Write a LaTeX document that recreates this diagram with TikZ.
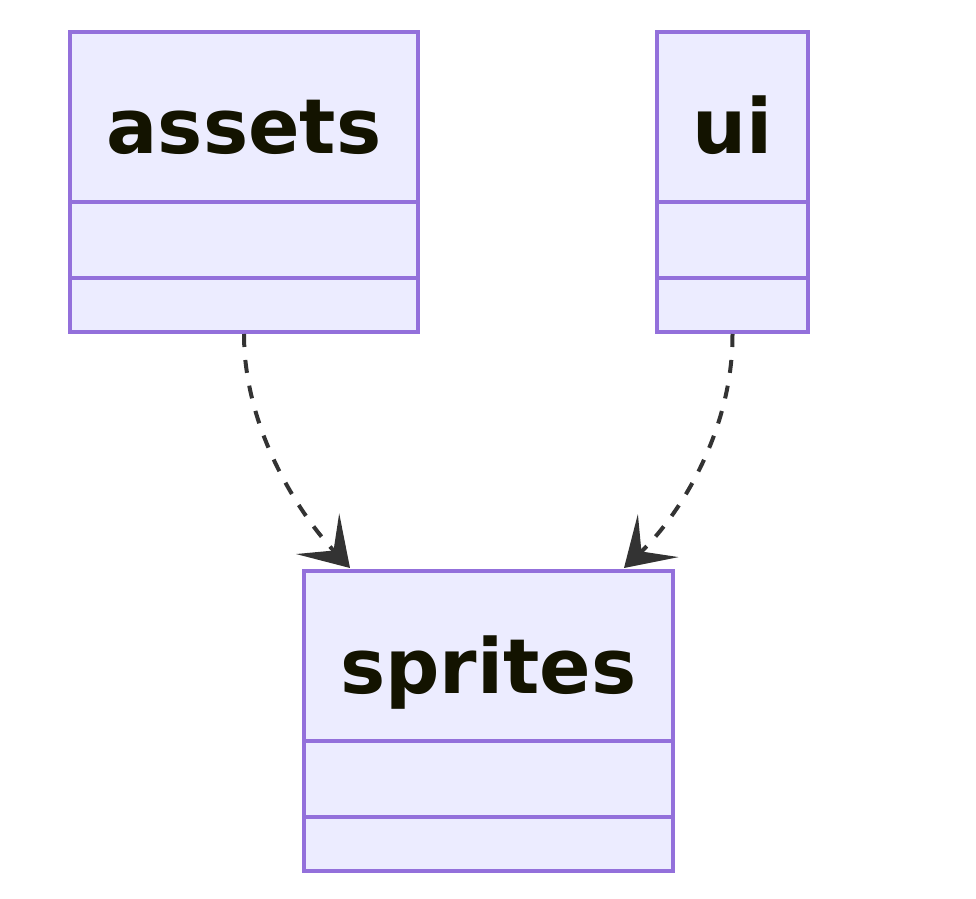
\documentclass[tikz,border=0pt]{standalone}
\usepackage{fontspec}
\setmainfont{DejaVu Sans}
\usepackage{xcolor}
\usetikzlibrary{arrows.meta,positioning,calc}
\definecolor{classfill}{HTML}{ECECFF}
\definecolor{classdraw}{HTML}{9370DB}
\definecolor{classtext}{HTML}{131300}
\definecolor{depline}{HTML}{333333}

\begin{document}
\begin{tikzpicture}[
    x=0.5pt, y=-0.5pt,
    classbox/.style={rectangle, draw=classdraw, line width=2pt, fill=classfill, minimum height=150pt, inner sep=0pt},
    title/.style={font=\bfseries\fontsize{38}{46}\selectfont, text=classtext, anchor=base, inner sep=0pt},
    divider/.style={draw=classdraw, line width=2pt},
    dep/.style={-{Stealth[length=23.5pt, width=29.5pt, inset=11.5pt]}, dash pattern=on 6.5pt off 6.5pt, line width=2pt, draw=depline}
]
    \useasboundingbox (0,0) rectangle (976,899);

    % Classes
    \node[classbox, minimum width=174pt] (assets) at (244,182) {};
    \node[classbox, minimum width=75.5pt] (ui) at (732.5,182) {};
    \node[classbox, minimum width=184.5pt] (sprites) at (488.5,721) {};

    % Titles
    \node[title] (assets-title) at ($(assets.north)+(0,124)$) {assets};
    \node[title] (ui-title) at ($(ui.north)+(0,124)$) {ui};
    \node[title] (sprites-title) at ($(sprites.north)+(0,124)$) {sprites};

    % Member and method compartments
    \foreach \cls in {assets,ui,sprites} {
        \draw[divider] ($(\cls.north west)+(0,172)$) -- ($(\cls.north east)+(0,172)$);
        \draw[divider] ($(\cls.north west)+(0,248)$) -- ($(\cls.north east)+(0,248)$);
    }

    % Dependencies
    \coordinate (sprites-in-left) at ($(sprites.north west)+(48,-1)$);
    \coordinate (sprites-in-right) at ($(sprites.north west)+(322,-1)$);
    \draw[dep] (assets.south) .. controls (244,430) and (300,515) .. (sprites-in-left);
    \draw[dep] (ui.south) .. controls (733,430) and (680,515) .. (sprites-in-right);
\end{tikzpicture}
\end{document}
